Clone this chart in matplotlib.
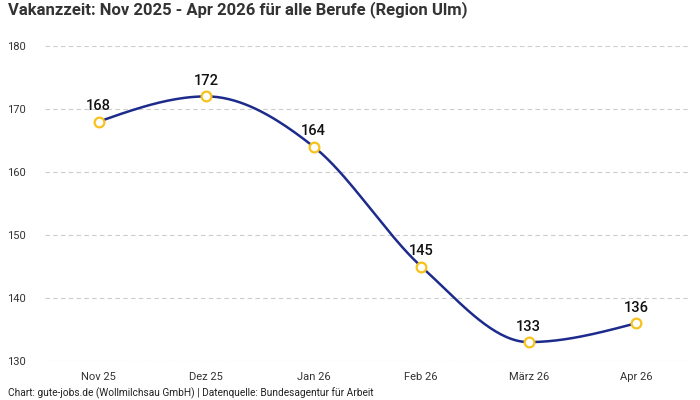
import numpy as np
import matplotlib
matplotlib.use("Agg")
import matplotlib.pyplot as plt

plt.rcParams['font.family'] = ['Roboto', 'DejaVu Sans']

months = ["Nov 25", "Dez 25", "Jan 26", "Feb 26", "März 26", "Apr 26"]
values = [168, 172, 164, 145, 133, 136]
yticks = [130, 140, 150, 160, 170, 180]


def monotone(x, y, n=40):
    # monotone cubic (like d3 curveMonotoneX), only for drawing the line
    x = np.asarray(x, float)
    y = np.asarray(y, float)
    h = np.diff(x)
    d = np.diff(y) / h
    m = np.zeros_like(y)
    for i in range(1, len(y) - 1):
        if d[i - 1] * d[i] <= 0:
            m[i] = 0
        else:
            p = (d[i - 1] * h[i] + d[i] * h[i - 1]) / (h[i - 1] + h[i])
            m[i] = (np.sign(d[i - 1]) + np.sign(d[i])) * min(abs(d[i - 1]), abs(d[i]), 0.5 * abs(p))
    m[0] = (3 * d[0] - m[1]) / 2
    m[-1] = (3 * d[-1] - m[-2]) / 2
    xs, ys = [], []
    for i in range(len(h)):
        t = np.linspace(0, 1, n)
        h00 = 2 * t**3 - 3 * t**2 + 1
        h10 = t**3 - 2 * t**2 + t
        h01 = -2 * t**3 + 3 * t**2
        h11 = t**3 - t**2
        xs.append(x[i] + t * h[i])
        ys.append(h00 * y[i] + h10 * h[i] * m[i] + h01 * y[i + 1] + h11 * h[i] * m[i + 1])
    return np.concatenate(xs), np.concatenate(ys)


x = np.arange(len(months))
sx, sy = monotone(x, values)

fig = plt.figure(figsize=(7, 4), dpi=100)
ax = fig.add_axes([45 / 700, 1 - 361 / 400, 645 / 700, 315 / 400])

ax.plot(sx, sy, color="#1c2b8c", lw=1.8, zorder=3)
ax.plot(x, values, "o", ms=7, mfc="white", mec="#f8c21c", mew=1.6, zorder=4)
for xi, v in zip(x, values):
    ax.annotate(str(v), (xi, v), xytext=(0, 6), textcoords="offset points",
                ha="center", va="bottom", fontsize=10.5, fontweight="medium", color="#111111")

ax.set_xlim(-0.5, len(months) - 0.5)
ax.set_ylim(130, 180)
ax.set_xticks(x)
ax.set_xticklabels(months)
ax.set_yticks(yticks)
ax.tick_params(length=0, labelsize=8, colors="#333333", pad=8)
ax.tick_params(axis="y", pad=14)
ax.grid(axis="y", color="#cccccc", ls=(0, (4, 3)), lw=0.8)
for s in ax.spines.values():
    s.set_visible(False)

fig.text(8 / 700, 1 - 10 / 400, "Vakanzzeit: Nov 2025 - Apr 2026 für alle Berufe (Region Ulm)",
         fontsize=12, fontweight="bold", color="#333333", va="center", ha="left")
fig.text(8 / 700, 1 - 393 / 400, "Chart: gute-jobs.de (Wollmilchsau GmbH) | Datenquelle: Bundesagentur für Arbeit",
         fontsize=7.3, color="#222222", va="center", ha="left")

fig.savefig("out.png", dpi=100)
